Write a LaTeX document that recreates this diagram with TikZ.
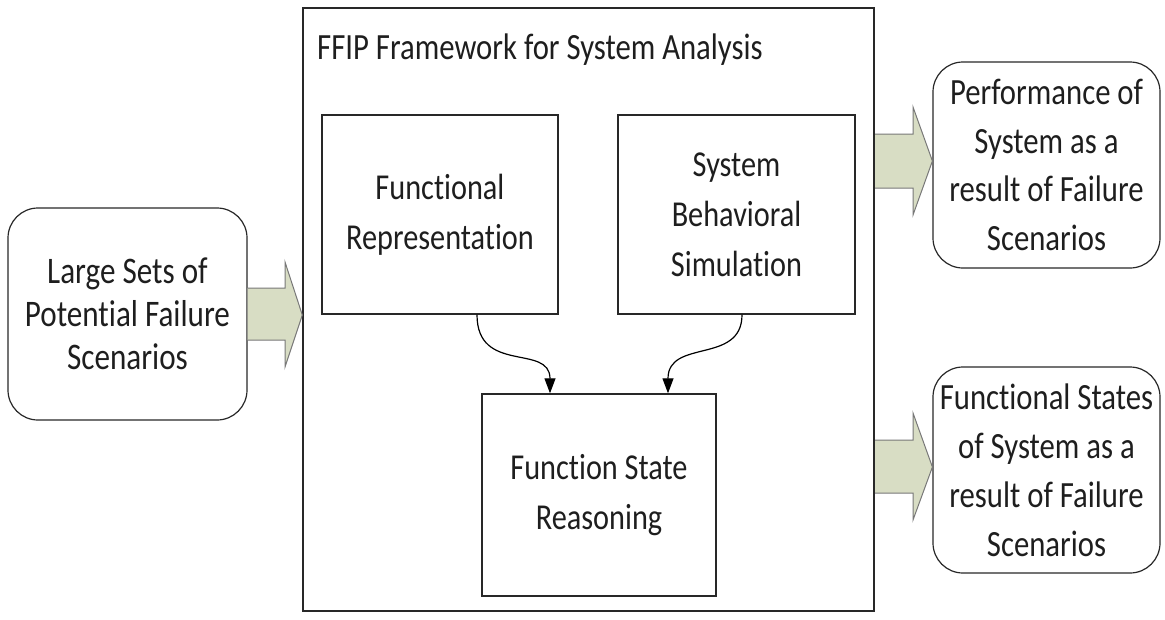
\documentclass[tikz,border=0pt]{standalone}
\usepackage{fontspec}
\setmainfont{Carlito}[FakeStretch=0.83, Ligatures={NoCommon}]
\usetikzlibrary{arrows.meta,calc}
\definecolor{arrfill}{RGB}{216,221,196}
\definecolor{arrline}{RGB}{120,120,120}
\definecolor{boxline}{RGB}{40,40,40}
\definecolor{txt}{RGB}{30,30,30}
\tikzset{
  sqbox/.style={draw=boxline, line width=1.4pt, rectangle, align=center, inner sep=0pt, text=txt, font=\fontsize{36.5}{50}\selectfont},
  rbox/.style={draw=boxline, line width=1.2pt, rectangle, rounded corners=30pt, align=center, inner sep=0pt, text=txt},
  blockarrow/.style={fill=arrfill, draw=none},
  blockedge/.style={draw=arrline, line width=1pt, line join=miter},
  flow/.style={draw=black, line width=1.2pt, -{Triangle[length=15pt,width=11pt]}}
}
\begin{document}
\begin{tikzpicture}[x=1pt,y=-1pt]
\useasboundingbox (0,0) rectangle (1165,619);
% big frame
\node[sqbox, minimum width=571pt, minimum height=603pt] (frame) at (588.5,309.5) {};
\node[anchor=base west, inner sep=0pt, text=txt, font=\fontsize{37}{44}\selectfont] (title) at (317,59) {FFIP Framework for System Analysis};
% inner boxes
\node[sqbox, minimum width=236pt, minimum height=199pt] (fr) at (440,214.5) {Functional\\Representation};
\node[sqbox, minimum width=237pt, minimum height=199pt] (sbs) at (736.5,214.5) {System\\Behavioral\\Simulation};
\node[sqbox, minimum width=234pt, minimum height=202pt] (fsr) at (599,495) {Function State\\Reasoning};
% outside rounded boxes
\node[rbox, minimum width=239pt, minimum height=212pt, font=\fontsize{37.5}{43}\selectfont] (inp) at (127.5,314) {Large Sets of\\Potential Failure\\Scenarios};
\node[rbox, minimum width=227pt, minimum height=206pt, font=\fontsize{37}{48.5}\selectfont] (out1) at (1046.5,165) {Performance of\\System as a\\result of Failure\\Scenarios};
\node[rbox, minimum width=227pt, minimum height=206pt, font=\fontsize{37}{49}\selectfont] (out2) at (1046.5,470) {Functional States\\of System as a\\result of Failure\\Scenarios};
% block arrows
\fill[blockarrow] (inp.east |- 0,288) -- (285,288) -- (285,262) -- (frame.west |- 0,315) -- (285,367) -- (285,340) -- (inp.east |- 0,340) -- cycle;
\draw[blockedge] (inp.east |- 0,288) -- (285,288) -- (285,262) -- (frame.west |- 0,315) -- (285,367) -- (285,340) -- (inp.east |- 0,340);
\fill[blockarrow] (frame.east |- 0,134) -- (913,134) -- (913,107) -- (out1.west |- 0,161) -- (913,215) -- (913,188) -- (frame.east |- 0,188) -- cycle;
\draw[blockedge] (frame.east |- 0,134) -- (913,134) -- (913,107) -- (out1.west |- 0,161) -- (913,215) -- (913,188) -- (frame.east |- 0,188);
\fill[blockarrow] (frame.east |- 0,440) -- (913,440) -- (913,413) -- (out2.west |- 0,467) -- (913,520) -- (913,493) -- (frame.east |- 0,493) -- cycle;
\draw[blockedge] (frame.east |- 0,440) -- (913,440) -- (913,413) -- (out2.west |- 0,467) -- (913,520) -- (913,493) -- (frame.east |- 0,493);
% redraw frame edge over arrow fills
\draw[boxline, line width=1.4pt] (frame.north east) -- (frame.south east);
% curved connectors
\coordinate (a1) at ($(fr.south)+(37,0)$);
\coordinate (b1) at ($(fsr.north)+(-49,0)$);
\coordinate (a2) at ($(sbs.south)+(5.5,0)$);
\coordinate (b2) at ($(fsr.north)+(69,0)$);
\draw[flow] (a1) .. controls ($(a1)+(0,60)$) and ($(b1)+(0,-50)$) .. (b1);
\draw[flow] (a2) .. controls ($(a2)+(0,50)$) and ($(b2)+(0,-55)$) .. (b2);
\end{tikzpicture}
\end{document}
